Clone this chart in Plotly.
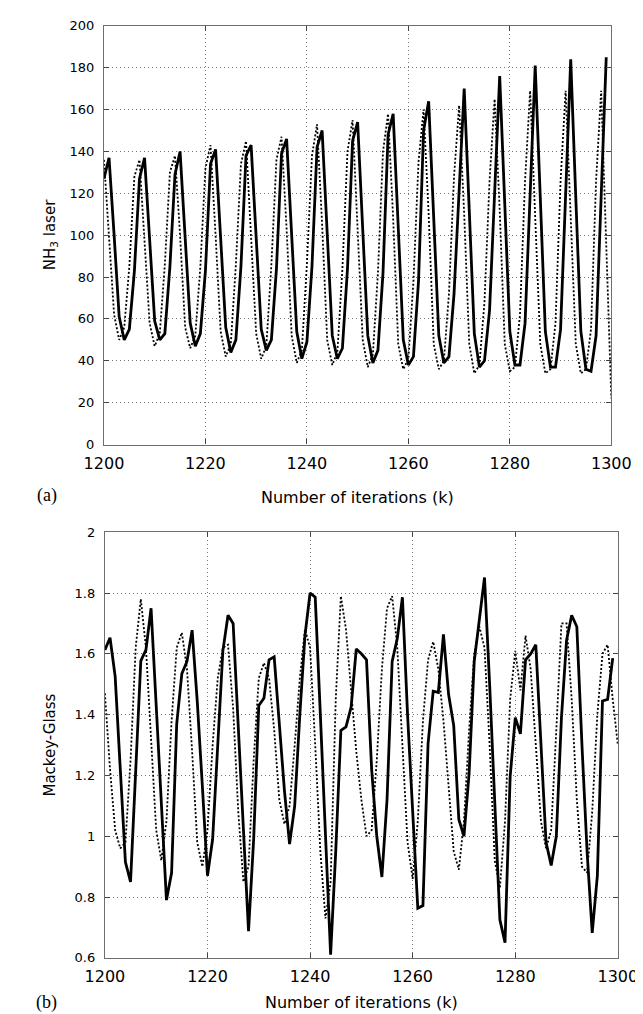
import plotly.graph_objects as go

# ---------------- data ----------------
iter_pred_a = list(range(1200, 1300))
iter_true_a = list(range(1200, 1301))
iter_pred_b = list(range(1200, 1300))
iter_true_b = list(range(1200, 1301))

nh3_pred = [127,
            137, 100, 61, 50, 55, 83, 127,
            137, 98, 59, 50, 53, 85, 129,
            140, 100, 58, 47, 53, 83, 134,
            141, 100, 56, 44, 50, 85, 138,
            143, 100, 55, 45, 50, 84, 139,
            146, 100, 54, 41, 49, 85, 142,
            150, 102, 52, 41, 46, 84, 145,
            154, 104, 52, 39, 45, 82, 148,
            158, 106, 50, 38, 42, 78, 150,
            164, 110, 52, 39, 42, 72, 122,
            170, 112, 53, 37, 40, 64, 122,
            176, 115, 54, 38, 38, 58, 122,
            181, 118, 54, 37, 37, 55, 122,
            184, 118, 54, 36, 35, 52, 120,
            185]

nh3_true = [136, 100, 62, 50, 56, 85, 128,
            136, 98, 58, 47, 53, 86, 130,
            138, 100, 56, 46, 52, 85, 132,
            143, 100, 54, 42, 48, 86, 134,
            145, 102, 53, 41, 47, 86, 136,
            147, 103, 52, 39, 45, 86, 138,
            153, 105, 50, 38, 44, 84, 140,
            155, 106, 50, 37, 43, 82, 140,
            158, 108, 48, 36, 41, 78, 135,
            160, 110, 48, 36, 40, 72, 128,
            162, 110, 48, 34, 38, 68, 126,
            165, 112, 48, 35, 37, 62, 126,
            169, 112, 48, 34, 36, 58, 126,
            169, 112, 48, 34, 36, 55, 126,
            169, 100, 22]

mg_pred = [1.613, 1.653, 1.526, 1.22, 0.915, 0.85, 1.20, 1.577, 1.613, 1.75,
           1.43, 1.10, 0.79, 0.88, 1.37, 1.535, 1.575, 1.678, 1.445, 1.165,
           0.87, 0.99, 1.30, 1.61, 1.727, 1.70, 1.36, 1.02, 0.688, 0.99,
           1.43, 1.454, 1.58, 1.59, 1.37, 1.15, 0.974, 1.10, 1.40, 1.66,
           1.80, 1.786, 1.40, 1.00, 0.61, 0.95, 1.348, 1.36, 1.425, 1.616,
           1.60, 1.58, 1.22, 1.00, 0.866, 1.12, 1.575, 1.65, 1.786, 1.40,
           1.07, 0.763, 0.772, 1.305, 1.477, 1.473, 1.664, 1.467, 1.364, 1.055,
           1.00, 1.207, 1.575, 1.705, 1.851, 1.50, 1.12, 0.725, 0.65, 1.196,
           1.39, 1.337, 1.58, 1.60, 1.63, 1.30, 0.98, 0.904, 1.00, 1.39,
           1.645, 1.727, 1.689, 1.30, 0.95, 0.682, 0.87, 1.445, 1.45, 1.586]

mg_true = [1.47, 1.22, 1.02, 0.96, 0.98, 1.25, 1.62, 1.78, 1.62, 1.30,
           1.02, 0.92, 1.05, 1.38, 1.62, 1.67, 1.55, 1.28, 0.98, 0.90,
           1.02, 1.30, 1.52, 1.62, 1.63, 1.42, 1.08, 0.85, 0.90, 1.25,
           1.52, 1.57, 1.52, 1.35, 1.12, 1.04, 1.10, 1.30, 1.52, 1.68,
           1.62, 1.30, 0.95, 0.73, 0.85, 1.45, 1.79, 1.68, 1.48, 1.28,
           1.12, 1.00, 1.02, 1.25, 1.55, 1.75, 1.79, 1.62, 1.30, 0.98,
           0.86, 1.05, 1.38, 1.58, 1.64, 1.55, 1.38, 1.15, 0.95, 0.89,
           1.05, 1.35, 1.60, 1.69, 1.62, 1.30, 0.92, 0.83, 1.05, 1.45,
           1.61, 1.48, 1.66, 1.55, 1.30, 1.05, 0.96, 1.02, 1.35, 1.70,
           1.70, 1.45, 1.12, 0.90, 0.88, 1.08, 1.40, 1.60, 1.63, 1.45,
           1.30]

x_ticks = [1200, 1220, 1240, 1260, 1280, 1300]
y_ticks_a = [0, 20, 40, 60, 80, 100, 120, 140, 160, 180, 200]
y_ticks_b = [0.6, 0.8, 1.0, 1.2, 1.4, 1.6, 1.8, 2.0]
y_ticktext_b = ["0.6", "0.8", "1", "1.2", "1.4", "1.6", "1.8", "2"]

# ---------------- figure ----------------
W, H = 643, 1014
FONT = "DejaVu Sans"

fig = go.Figure()
dot_line = dict(color="black", width=1.8, dash="2px,2px")
solid_line = dict(color="black", width=2.8)

fig.add_trace(go.Scatter(x=iter_true_a, y=nh3_true, mode="lines", line=dot_line,
                         xaxis="x", yaxis="y", showlegend=False))
fig.add_trace(go.Scatter(x=iter_pred_a, y=nh3_pred, mode="lines", line=solid_line,
                         xaxis="x", yaxis="y", showlegend=False))
fig.add_trace(go.Scatter(x=iter_true_b, y=mg_true, mode="lines", line=dot_line,
                         xaxis="x2", yaxis="y2", showlegend=False))
fig.add_trace(go.Scatter(x=iter_pred_b, y=mg_pred, mode="lines", line=solid_line,
                         xaxis="x2", yaxis="y2", showlegend=False))

def xpx(p):
    return p / W

def ypx(p):
    return 1 - p / H

common_axis = dict(
    ticks="inside", ticklen=5, tickcolor="#444", tickwidth=1,
    showline=True, linecolor="#6e6e6e", linewidth=1.2, mirror="ticks",
    showgrid=True, gridcolor="#777", griddash="1px,3px", gridwidth=1,
    zeroline=False,
)

fig.update_layout(
    width=W, height=H,
    margin=dict(l=0, r=0, t=0, b=0),
    paper_bgcolor="white", plot_bgcolor="white",
    showlegend=False,
    xaxis=dict(domain=[xpx(81), xpx(622)], range=[1200, 1300], anchor="y",
               tickvals=x_ticks, tickfont=dict(family=FONT, size=16, color="black"),
               ticklabelstandoff=4, **common_axis),
    yaxis=dict(domain=[ypx(436), ypx(11)], range=[0, 200], anchor="x",
               tickvals=y_ticks_a, tickfont=dict(family=FONT, size=13, color="black"),
               ticklabelstandoff=6, **common_axis),
    xaxis2=dict(domain=[xpx(82), xpx(629)], range=[1200, 1300], anchor="y2",
                tickvals=x_ticks, tickfont=dict(family=FONT, size=16, color="black"),
                ticklabelstandoff=4, **common_axis),
    yaxis2=dict(domain=[ypx(957), ypx(525)], range=[0.6, 2.0], anchor="x2",
                tickvals=y_ticks_b, ticktext=y_ticktext_b,
                tickfont=dict(family=FONT, size=13, color="black"),
                ticklabelstandoff=6, **common_axis),
)

ann_font = dict(family=FONT, size=16, color="black")
annotations = [
    dict(text="Number of iterations (k)", x=xpx((81 + 622) / 2), y=ypx(490),
         font=ann_font),
    dict(text="(a)", x=xpx(20), y=ypx(488),
         font=dict(family="Liberation Serif", size=18, color="black")),
    dict(text="NH<sub>3</sub> laser", x=xpx(24), y=ypx(223), textangle=-90,
         font=dict(family=FONT, size=15, color="black")),
    dict(text="Number of iterations (k)", x=xpx((82 + 629) / 2), y=ypx(1002),
         font=ann_font),
    dict(text="(b)", x=xpx(20), y=ypx(1002),
         font=dict(family="Liberation Serif", size=18, color="black")),
    dict(text="Mackey-Glass", x=xpx(24), y=ypx(741), textangle=-90,
         font=dict(family=FONT, size=15, color="black")),
]
for a in annotations:
    a.update(xref="paper", yref="paper", showarrow=False,
             xanchor="center", yanchor="middle")
fig.update_layout(annotations=annotations)

fig.write_html("out.html")
